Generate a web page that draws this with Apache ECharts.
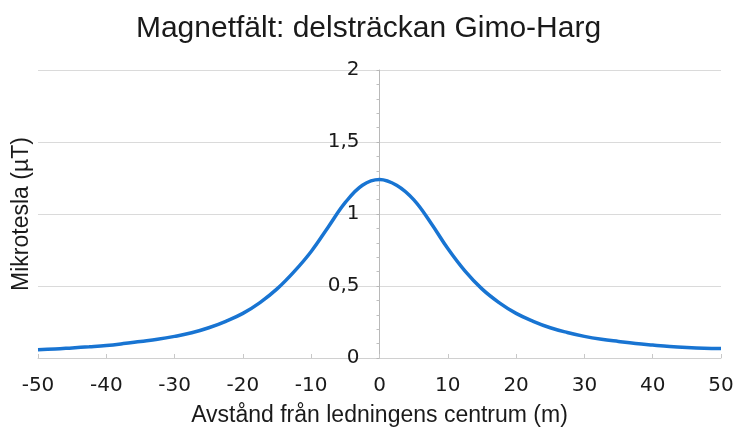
<!DOCTYPE html>
<html>
<head>
<meta charset="utf-8">
<script src="https://cdn.jsdelivr.net/npm/echarts@6/dist/echarts.min.js"></script>
<style>html,body{margin:0;padding:0;background:#fff;}#c{width:737px;height:433px;}</style>
</head>
<body>
<div id="c"></div>
<script>
const titleText = "Magnetfält: delsträckan Gimo-Harg";
const xAxisName = "Avstånd från ledningens centrum (m)";
const yAxisName = "Mikrotesla (µT)";
const distances = [-50, -47.5, -45, -42.5, -40, -37.5, -35, -32.5, -30, -27.5, -25, -22.5, -20, -17.5, -15, -12.5, -10, -7.5, -5, -2.5, 0,
                   2.5, 5, 7.5, 10, 12.5, 15, 17.5, 20, 22.5, 25, 27.5, 30, 32.5, 35, 37.5, 40, 42.5, 45, 47.5, 50];
const microtesla = [0.057, 0.062, 0.07, 0.078, 0.087, 0.1, 0.115, 0.13, 0.15, 0.175, 0.21, 0.255, 0.31, 0.385, 0.48, 0.6, 0.74, 0.91, 1.08, 1.2, 1.24,
                    1.2, 1.1, 0.94, 0.76, 0.605, 0.48, 0.385, 0.31, 0.255, 0.21, 0.177, 0.15, 0.13, 0.115, 0.101, 0.09, 0.08, 0.073, 0.068, 0.066];

const GRID_LEFT = 38, GRID_RIGHT = 16;
const zeroOffset = -(737 - GRID_LEFT - GRID_RIGHT) / 2;

const chart = echarts.init(document.getElementById('c'));
chart.setOption({
  backgroundColor: '#ffffff',
  animation: false,
  title: {
    text: titleText,
    left: 'center',
    top: 9,
    textStyle: { fontFamily: 'Liberation Sans, Arial, sans-serif', fontSize: 30, fontWeight: 'normal', color: '#1a1a1a' }
  },
  grid: { left: GRID_LEFT, right: GRID_RIGHT, top: 70, bottom: 75, containLabel: false, outerBoundsMode: 'none' },
  xAxis: {
    type: 'value',
    min: -50, max: 50, interval: 10,
    name: xAxisName,
    nameLocation: 'middle',
    nameGap: 46,
    nameTextStyle: { fontFamily: 'Liberation Sans, Arial, sans-serif', fontSize: 23, color: '#1a1a1a' },
    axisLine: { show: true, onZero: false, lineStyle: { color: '#d0d0d0', width: 1 } },
    axisTick: { show: true, inside: true, length: 4, lineStyle: { color: '#c8c8c8' } },
    axisLabel: { margin: 18, fontFamily: 'DejaVu Sans, Verdana, sans-serif', fontSize: 20, color: '#1a1a1a' },
    splitLine: { show: false }
  },
  yAxis: {
    type: 'value',
    min: 0, max: 2, interval: 0.5,
    offset: zeroOffset,
    name: yAxisName,
    nameLocation: 'middle',
    nameGap: 346,
    nameTextStyle: { fontFamily: 'Liberation Sans, Arial, sans-serif', fontSize: 23, color: '#1a1a1a' },
    axisLine: { show: true, onZero: false, lineStyle: { color: '#b8b8b8', width: 1 } },
    axisTick: { show: true, length: 3, lineStyle: { color: '#b8b8b8' } },
    minorTick: { show: true, splitNumber: 5, length: 3, lineStyle: { color: '#c0c0c0' } },
    axisLabel: {
      margin: 20,
      fontFamily: 'DejaVu Sans, Verdana, sans-serif', fontSize: 20, color: '#1a1a1a',
      formatter: v => String(v).replace('.', ',')
    },
    splitLine: { show: true, lineStyle: { color: '#dadada', width: 1 } }
  },
  series: [{
    type: 'line',
    data: distances.map((d, i) => [d, microtesla[i]]),
    smooth: 0.4,
    showSymbol: false,
    lineStyle: { color: '#1874d2', width: 3.5 }
  }]
});
</script>
</body>
</html>
